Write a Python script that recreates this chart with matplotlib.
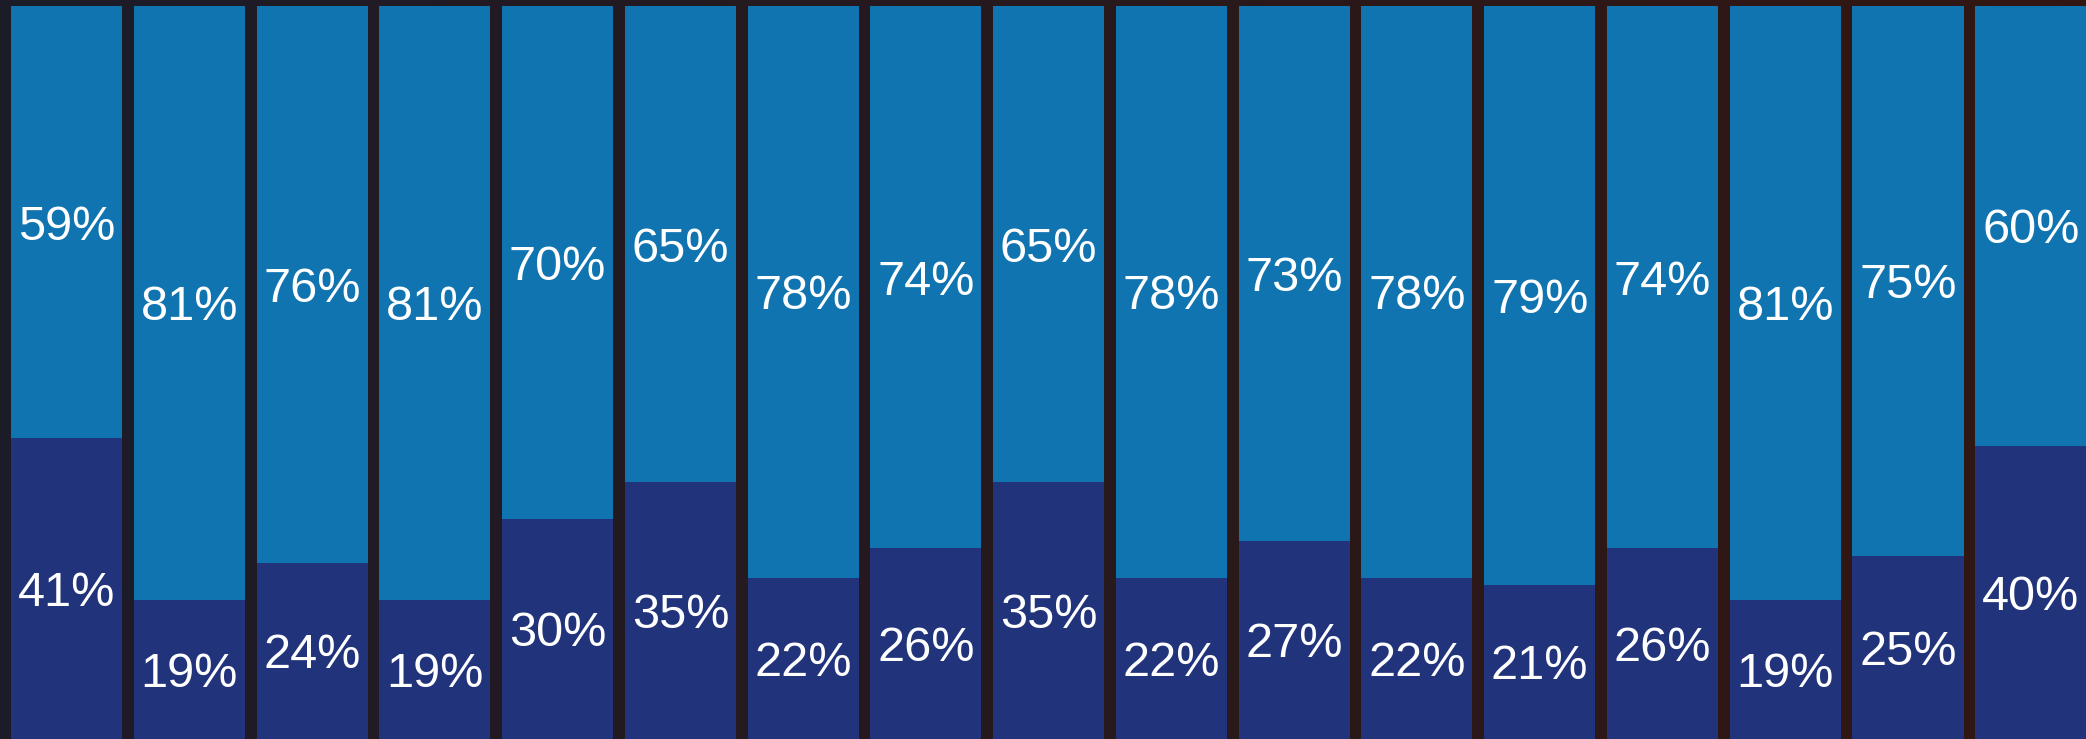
import numpy as np
import matplotlib
matplotlib.use("Agg")
import matplotlib.pyplot as plt

lower = [41, 19, 24, 19, 30, 35, 22, 26, 35, 22, 27, 22, 21, 26, 19, 25, 40]
upper = [59, 81, 76, 81, 70, 65, 78, 74, 65, 78, 73, 78, 79, 74, 81, 75, 60]

plt.rcParams['font.family'] = ['Liberation Sans', 'DejaVu Sans']

fig = plt.figure(figsize=(20.86, 7.39), dpi=100)

# dark photo-like backdrop: navy on the left fading to brown on the right
bg = fig.add_axes([0, 0, 1, 1])
grad = np.linspace(0, 1, 256)[None, :, None]
left_c = np.array([0.11, 0.11, 0.16])
right_c = np.array([0.20, 0.09, 0.07])
bg.imshow(left_c * (1 - grad) + right_c * grad, aspect='auto', extent=[0, 1, 0, 1])
bg.axis('off')

ax = fig.add_axes([0, 0, 1, 1 - 6 / 739])
ax.patch.set_alpha(0)
x = np.arange(len(lower))
ax.bar(x, lower, width=0.905, color='#21337a')
ax.bar(x, upper, width=0.905, bottom=lower, color='#1074b1')

# labels centred on each segment (baseline shifted by half the cap height)
for i in x:
    ax.annotate(f"{lower[i]}%", (i, lower[i] / 2), xytext=(0, -12.5),
                textcoords='offset points', ha='center', va='baseline',
                color='white', fontsize=35)
    ax.annotate(f"{upper[i]}%", (i, lower[i] + upper[i] / 2), xytext=(0, -12.5),
                textcoords='offset points', ha='center', va='baseline',
                color='white', fontsize=35)

ax.set_xlim(-0.542, 16.45)
ax.set_ylim(0, 100)
ax.axis('off')

fig.savefig("out.png", dpi=100)
